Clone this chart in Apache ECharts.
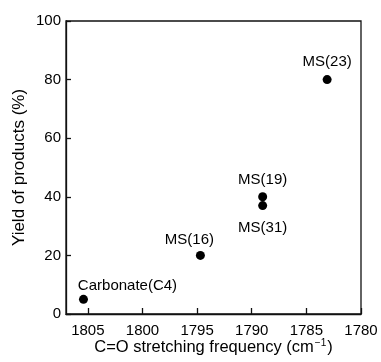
<!DOCTYPE html>
<html><head><meta charset="utf-8">
<script src="https://cdn.jsdelivr.net/npm/echarts@6/dist/echarts.min.js"></script>
<style>html,body{margin:0;padding:0;background:#fff}#c{width:381px;height:362px}</style>
</head><body><div id="c"></div>
<script>
const names = ['Carbonate(C4)', 'MS(16)', 'MS(19)', 'MS(31)', 'MS(23)'];
const freq = [1805.4, 1794.7, 1789.0, 1789.0, 1783.1];
const yieldPct = [5, 20, 40, 37, 80];
const xTicks = [1780, 1785, 1790, 1795, 1800, 1805];
const yTicks = [0, 20, 40, 60, 80, 100];

const labelStyle = [
  {position: 'top', distance: 1, offset: [44, 0]},
  {position: 'top', distance: 4, offset: [-11, 0]},
  {position: 'top', distance: 5, offset: [0, 0]},
  {position: 'bottom', distance: 10, offset: [0, 0]},
  {position: 'top', distance: 6, offset: [0, 0]}
];

const font = 'Liberation Sans, Arial, sans-serif';
const data = names.map((n, i) => ({
  name: n, value: [freq[i], yieldPct[i]],
  label: Object.assign({show: true, formatter: n, color: '#000', fontSize: 15, fontFamily: font}, labelStyle[i])
}));

const chart = echarts.init(document.getElementById('c'));
chart.setOption({
  animation: false,
  grid: {left: 66, top: 21, right: 20, bottom: 48, show: true, borderColor: '#111', borderWidth: 1.3,
    containLabel: false, outerBoundsMode: 'none'},
  xAxis: {
    type: 'value', inverse: true, min: 1780, max: 1807, interval: 5,
    axisLine: {show: true, lineStyle: {color: '#111', width: 1.3}},
    axisTick: {show: true, inside: true, length: 6, lineStyle: {color: '#111', width: 1.3},
      customValues: xTicks},
    axisLabel: {color: '#000', fontSize: 15, fontFamily: font, margin: 9, customValues: xTicks,
      formatter: v => String(v)},
    splitLine: {show: false},
    name: '{a|C=O stretching frequency (cm}{b|−1}{a|)}',
    nameLocation: 'middle', nameGap: 24, nameMoveOverlap: false,
    nameTextStyle: {rich: {
      a: {fontSize: 16.5, fontFamily: font, color: '#000'},
      b: {fontSize: 10, fontFamily: font, color: '#000', padding: [0, 1, 9, 1]}
    }}
  },
  yAxis: {
    type: 'value', min: 0, max: 100, interval: 20,
    axisLine: {show: true, lineStyle: {color: '#111', width: 1.3}},
    axisTick: {show: true, inside: true, length: 5, lineStyle: {color: '#111', width: 1.3}},
    axisLabel: {color: '#000', fontSize: 15, fontFamily: font, margin: 5,
      formatter: v => yTicks.includes(v) ? String(v) : ''},
    splitLine: {show: false},
    name: 'Yield of products (%)', nameLocation: 'middle', nameGap: 38, nameMoveOverlap: false,
    nameTextStyle: {fontSize: 17, fontFamily: font, color: '#000'}
  },
  series: [{
    type: 'scatter', symbol: 'circle', symbolSize: 9,
    itemStyle: {color: '#000', opacity: 1},
    data: data
  }]
});
</script></body></html>
